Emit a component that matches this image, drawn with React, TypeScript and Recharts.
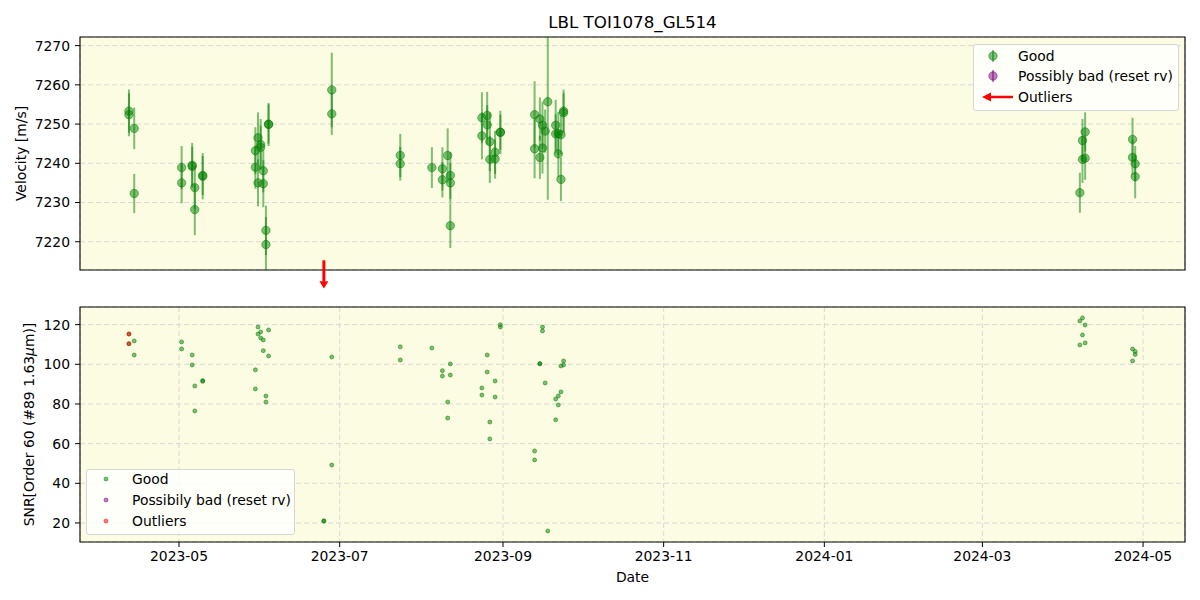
import {
  ScatterChart,
  Scatter,
  XAxis,
  YAxis,
  CartesianGrid,
  ReferenceLine,
  ReferenceArea,
  ReferenceDot,
  Legend,
  Label,
} from 'recharts';

// velocity panel (good points)
const velDates = [
  '2023-04-12', '2023-04-12', '2023-04-14', '2023-04-14', '2023-05-02', '2023-05-02',
  '2023-05-06', '2023-05-06', '2023-05-07', '2023-05-07', '2023-05-10', '2023-05-10',
  '2023-05-30', '2023-05-30', '2023-05-31', '2023-05-31', '2023-06-01', '2023-06-01',
  '2023-06-02', '2023-06-02', '2023-06-03', '2023-06-03', '2023-06-04', '2023-06-04',
  '2023-06-28', '2023-06-28', '2023-07-24', '2023-07-24', '2023-08-05', '2023-08-09',
  '2023-08-09', '2023-08-11', '2023-08-12', '2023-08-12', '2023-08-12', '2023-08-24',
  '2023-08-24', '2023-08-26', '2023-08-26', '2023-08-27', '2023-08-27', '2023-08-29',
  '2023-08-29', '2023-08-31', '2023-08-31', '2023-09-13', '2023-09-13', '2023-09-15',
  '2023-09-15', '2023-09-16', '2023-09-16', '2023-09-17', '2023-09-18', '2023-09-21',
  '2023-09-21', '2023-09-22', '2023-09-22', '2023-09-23', '2023-09-23', '2023-09-24',
  '2023-09-24', '2024-04-07', '2024-04-08', '2024-04-08', '2024-04-09', '2024-04-09',
  '2024-04-27', '2024-04-27', '2024-04-28', '2024-04-28',
];
const velValues = [
  7253.3, 7252.4, 7248.9, 7232.3, 7238.9, 7235.0,
  7239.5, 7239.2, 7233.8, 7228.2, 7236.7, 7236.9,
  7243.2, 7239.0, 7246.5, 7235.0, 7244.8, 7244.1,
  7234.8, 7238.1, 7222.9, 7219.3, 7249.9, 7250.0,
  7258.7, 7252.6, 7242.0, 7239.9, 7238.9, 7238.6,
  7235.8, 7242.0, 7236.9, 7235.0, 7224.1, 7251.6,
  7247.0, 7252.2, 7249.8, 7245.5, 7241.0, 7242.8,
  7241.1, 7247.9, 7247.9, 7252.4, 7243.7, 7251.3,
  7241.5, 7249.7, 7243.9, 7248.2, 7255.7, 7249.7,
  7247.5, 7247.6, 7242.4, 7247.3, 7235.9, 7253.3,
  7252.9, 7232.5, 7245.8, 7241.0, 7248.0, 7241.3,
  7246.1, 7241.5, 7239.9, 7236.6,
];
const velErrors = [
  5.5, 5.5, 5.3, 5.0, 5.5, 5.2,
  5.7, 5.0, 5.5, 6.5, 5.9, 5.0,
  6.0, 5.5, 6.5, 6.0, 6.5, 5.5,
  6.0, 5.5, 6.3, 7.0, 5.5, 5.0,
  9.5, 5.4, 5.5, 4.3, 5.2, 5.5,
  4.5, 6.9, 6.0, 5.0, 5.7, 6.5,
  6.0, 6.0, 5.0, 7.5, 6.0, 5.5,
  5.0, 5.5, 4.5, 8.5, 7.5, 5.5,
  5.5, 6.0, 6.5, 5.5, 25.0, 6.5,
  5.0, 5.5, 6.0, 5.0, 5.5, 5.5,
  5.0, 5.1, 5.5, 6.0, 5.0, 5.5,
  5.5, 4.5, 4.5, 5.5,
];
const outlierVelDates = ['2023-06-25'];

// SNR panel
const snrDates = [
  '2023-04-12', '2023-04-12', '2023-04-14', '2023-04-14', '2023-05-02', '2023-05-02',
  '2023-05-06', '2023-05-06', '2023-05-07', '2023-05-07', '2023-05-10', '2023-05-10',
  '2023-05-30', '2023-05-30', '2023-05-31', '2023-05-31', '2023-06-01', '2023-06-01',
  '2023-06-02', '2023-06-02', '2023-06-03', '2023-06-03', '2023-06-04', '2023-06-04',
  '2023-06-25', '2023-06-25', '2023-06-28', '2023-06-28', '2023-07-24', '2023-07-24',
  '2023-08-05', '2023-08-09', '2023-08-09', '2023-08-11', '2023-08-11', '2023-08-12',
  '2023-08-12', '2023-08-24', '2023-08-24', '2023-08-26', '2023-08-26', '2023-08-27',
  '2023-08-27', '2023-08-29', '2023-08-29', '2023-08-31', '2023-08-31', '2023-09-13',
  '2023-09-13', '2023-09-15', '2023-09-15', '2023-09-16', '2023-09-16', '2023-09-17',
  '2023-09-18', '2023-09-21', '2023-09-21', '2023-09-22', '2023-09-22', '2023-09-23',
  '2023-09-23', '2023-09-24', '2023-09-24', '2024-04-07', '2024-04-07', '2024-04-08',
  '2024-04-08', '2024-04-09', '2024-04-09', '2024-04-27', '2024-04-27', '2024-04-28',
  '2024-04-28',
];
const snrValues = [
  115.3, 110.4, 111.8, 104.7, 111.3, 107.7,
  104.7, 99.7, 89.1, 76.5, 91.4, 91.8,
  97.2, 87.6, 118.8, 115.3, 116.3, 113.3,
  112.3, 106.9, 84.0, 81.0, 117.3, 104.2,
  20.9, 21.1, 103.7, 49.2, 108.8, 102.2,
  108.2, 96.8, 94.1, 81.0, 72.9, 100.2,
  94.6, 88.1, 84.5, 104.7, 96.1, 70.9,
  62.4, 91.6, 83.5, 120.0, 118.8, 56.3,
  51.8, 100.2, 100.4, 118.8, 116.8, 90.6,
  16.0, 82.5, 72.0, 84.0, 79.5, 86.1,
  99.2, 101.7, 99.7, 121.9, 109.8, 123.4,
  114.8, 119.8, 110.8, 107.7, 101.7, 106.5,
  105.0,
];
const outlierSnrDates = ['2023-04-12', '2023-04-12'];
const outlierSnrValues = [115.3, 110.4];

const monthTicks = [
  '2023-05-01', '2023-07-01', '2023-09-01', '2023-11-01', '2024-01-01', '2024-03-01', '2024-05-01',
];
const velTicks = [7220, 7230, 7240, 7250, 7260, 7270];
const snrTicks = [20, 40, 60, 80, 100, 120];
const dateRange = ['2023-03-24T10:00:00Z', '2024-05-16T22:00:00Z'];
const velRange = [7212.8, 7272.2];
const snrRange = [10.4, 128.9];

const FONT = '"DejaVu Sans", sans-serif';
const FS = 13.9;
const GREEN = 'rgba(0,128,0,0.5)';
const PURPLE = 'rgba(128,0,128,0.5)';
const RED = 'rgba(255,0,0,0.5)';
const BG = '#fcfce3';

const toTs = (s: string) => Date.parse(s.length === 10 ? s + 'T00:00:00Z' : s);
const fmtMonth = (v: number) => {
  const d = new Date(v);
  return `${d.getUTCFullYear()}-${String(d.getUTCMonth() + 1).padStart(2, '0')}`;
};

const xDomain = [toTs(dateRange[0]), toTs(dateRange[1])];
const xTicks = monthTicks.map(toTs);

const velData = velDates.map((d, i) => ({ x: toTs(d), y: velValues[i], err: velErrors[i] }));
const snrData = snrDates.map((d, i) => ({ x: toTs(d), y: snrValues[i] }));
const outlierSnrData = outlierSnrDates.map((d, i) => ({ x: toTs(d), y: outlierSnrValues[i] }));

const tickStyle = { fontSize: FS, fill: '#000', fontFamily: FONT };

const VelDot = (p: any) => (
  <circle cx={p.cx} cy={p.cy} r={4.2} fill={GREEN} stroke={GREEN} strokeWidth={1} />
);
const SnrDot = (color: string) => (p: any) => (
  <circle cx={p.cx} cy={p.cy} r={2} fill={color} stroke={color} strokeWidth={1} />
);

const ArrowDown = (p: any) => (
  <g>
    <line x1={p.cx} y1={p.cy - 9.7} x2={p.cx} y2={p.cy + 11.5} stroke="#ff0000" strokeWidth={3} />
    <polygon
      points={`${p.cx - 4.5},${p.cy + 11.3} ${p.cx + 4.5},${p.cy + 11.3} ${p.cx},${p.cy + 18.6}`}
      fill="#ff0000"
    />
  </g>
);

const yLabel = (text: any, x: number) => (props: any) => {
  const vb = props.viewBox || {};
  const cy = vb.y + vb.height / 2;
  return (
    <text
      x={x}
      y={cy}
      transform={`rotate(-90 ${x} ${cy})`}
      textAnchor="middle"
      dominantBaseline="central"
      fontSize={FS}
      fontFamily={FONT}
      fill="#000"
    >
      {text}
    </text>
  );
};

const legendBox = {
  boxSizing: 'border-box' as const,
  border: '1px solid #d6d6d6',
  borderRadius: 3,
  background: 'rgba(255,255,255,0.8)',
  fontFamily: FONT,
  fontSize: FS,
  color: '#000',
  position: 'relative' as const,
  width: '100%',
  height: '100%',
};

function VelLegend() {
  const rows = [
    { label: 'Good', color: GREEN, arrow: false },
    { label: 'Possibly bad (reset rv)', color: PURPLE, arrow: false },
    { label: 'Outliers', color: '#ff0000', arrow: true },
  ];
  return (
    <div style={legendBox}>
      {rows.map((r, i) => (
        <div
          key={r.label}
          style={{ position: 'absolute', left: 0, top: 0.5 + i * 20.8, height: 20, display: 'flex', alignItems: 'center' }}
        >
          <svg width={40} height={20}>
            {r.arrow ? (
              <g>
                <line x1={16} y1={10} x2={39} y2={10} stroke="#ff0000" strokeWidth={2.5} />
                <polygon points="8,10 17,5.6 17,14.4" fill="#ff0000" />
              </g>
            ) : (
              <g>
                <line x1={19} y1={4} x2={19} y2={16} stroke={r.color} strokeWidth={2} />
                <circle cx={19} cy={10} r={4.2} fill={r.color} stroke={r.color} strokeWidth={1} />
              </g>
            )}
          </svg>
          <span style={{ marginLeft: 4, whiteSpace: 'nowrap' }}>{r.label}</span>
        </div>
      ))}
    </div>
  );
}

function SnrLegend() {
  const rows = [
    { label: 'Good', color: GREEN },
    { label: 'Possibily bad (reset rv)', color: PURPLE },
    { label: 'Outliers', color: RED },
  ];
  return (
    <div style={legendBox}>
      {rows.map((r, i) => (
        <div
          key={r.label}
          style={{ position: 'absolute', left: 0, top: -0.5 + i * 21.2, height: 20, display: 'flex', alignItems: 'center' }}
        >
          <svg width={40} height={20}>
            <circle cx={19} cy={10} r={2} fill={r.color} stroke={r.color} strokeWidth={1} />
          </svg>
          <span style={{ marginLeft: 5, whiteSpace: 'nowrap' }}>{r.label}</span>
        </div>
      ))}
    </div>
  );
}

export default function App() {
  return (
    <div style={{ position: 'absolute', left: 0, top: 0, width: 1200, height: 600, background: '#fff' }}>
      <div
        style={{
          position: 'absolute',
          left: 80,
          width: 1105,
          top: 12,
          height: 20,
          lineHeight: '20px',
          textAlign: 'center',
          fontFamily: FONT,
          fontSize: 16.7,
          color: '#000',
        }}
      >
        LBL TOI1078_GL514
      </div>

      <div style={{ position: 'absolute', left: 0, top: 0 }}>
        <ScatterChart width={1200} height={292} margin={{ top: 37, right: 15, bottom: 0, left: 0 }}>
          <CartesianGrid strokeDasharray="5 3" stroke="#d0d0d0" strokeWidth={0.8} fill={BG} />
          <XAxis
            type="number"
            dataKey="x"
            domain={xDomain}
            ticks={xTicks}
            allowDataOverflow
            height={22}
            axisLine={false}
            tick={false}
            tickSize={5}
            tickLine={{ stroke: '#000' }}
          />
          <YAxis
            type="number"
            dataKey="y"
            domain={velRange}
            ticks={velTicks}
            allowDataOverflow
            width={80}
            axisLine={false}
            tickSize={5}
            tickMargin={5}
            tickLine={{ stroke: '#000' }}
            tick={tickStyle}
          >
            <Label content={yLabel('Velocity [m/s]', 21)} />
          </YAxis>
          {/* error bars, clipped to the plot area */}
          {velData.map((d, i) => (
            <ReferenceLine
              key={`eb-${i}`}
              segment={[
                { x: d.x, y: d.y - d.err },
                { x: d.x, y: d.y + d.err },
              ]}
              stroke={GREEN}
              strokeWidth={2}
              ifOverflow="hidden"
            />
          ))}
          <Scatter data={velData} dataKey="y" isAnimationActive={false} shape={VelDot} />
          <ReferenceArea
            x1={xDomain[0]}
            x2={xDomain[1]}
            y1={velRange[0]}
            y2={velRange[1]}
            fill="none"
            stroke="#000"
            strokeWidth={1.1}
            ifOverflow="visible"
          />
          {outlierVelDates.map((d) => (
            <ReferenceDot key={d} x={toTs(d)} y={velRange[0]} ifOverflow="visible" shape={ArrowDown} />
          ))}
          <Legend
            content={() => <VelLegend />}
            layout="horizontal"
            align="center"
            verticalAlign="middle"
            wrapperStyle={{ left: 973, top: 44, width: 206, height: 67 }}
          />
        </ScatterChart>
      </div>

      <div style={{ position: 'absolute', left: 0, top: 292 }}>
        <ScatterChart width={1200} height={308} margin={{ top: 15, right: 15, bottom: 0, left: 0 }}>
          <CartesianGrid strokeDasharray="5 3" stroke="#d0d0d0" strokeWidth={0.8} fill={BG} />
          <XAxis
            type="number"
            dataKey="x"
            domain={xDomain}
            ticks={xTicks}
            allowDataOverflow
            height={58}
            axisLine={false}
            tickSize={5}
            tickMargin={4}
            tickLine={{ stroke: '#000' }}
            tick={tickStyle}
            tickFormatter={fmtMonth}
          >
            <Label
              content={(p: any) => {
                const vb = p.viewBox || {};
                return (
                  <text
                    x={vb.x + vb.width / 2}
                    y={285}
                    textAnchor="middle"
                    dominantBaseline="central"
                    fontSize={FS}
                    fontFamily={FONT}
                    fill="#000"
                  >
                    Date
                  </text>
                );
              }}
            />
          </XAxis>
          <YAxis
            type="number"
            dataKey="y"
            domain={snrRange}
            ticks={snrTicks}
            allowDataOverflow
            width={80}
            axisLine={false}
            tickSize={5}
            tickMargin={5}
            tickLine={{ stroke: '#000' }}
            tick={tickStyle}
          >
            <Label
              content={yLabel(
                <>
                  SNR[Order 60 (#89 1.63<tspan fontStyle="italic">μ</tspan>m)]
                </>,
                28.5,
              )}
            />
          </YAxis>
          <Scatter data={snrData} dataKey="y" isAnimationActive={false} shape={SnrDot(GREEN)} />
          <Scatter data={[]} dataKey="y" isAnimationActive={false} shape={SnrDot(PURPLE)} />
          <Scatter data={outlierSnrData} dataKey="y" isAnimationActive={false} shape={SnrDot(RED)} />
          <ReferenceArea
            x1={xDomain[0]}
            x2={xDomain[1]}
            y1={snrRange[0]}
            y2={snrRange[1]}
            fill="none"
            stroke="#000"
            strokeWidth={1.1}
            ifOverflow="visible"
          />
          <Legend
            content={() => <SnrLegend />}
            layout="horizontal"
            align="center"
            verticalAlign="middle"
            wrapperStyle={{ left: 86, top: 176.5, width: 209, height: 66 }}
          />
        </ScatterChart>
      </div>
    </div>
  );
}
